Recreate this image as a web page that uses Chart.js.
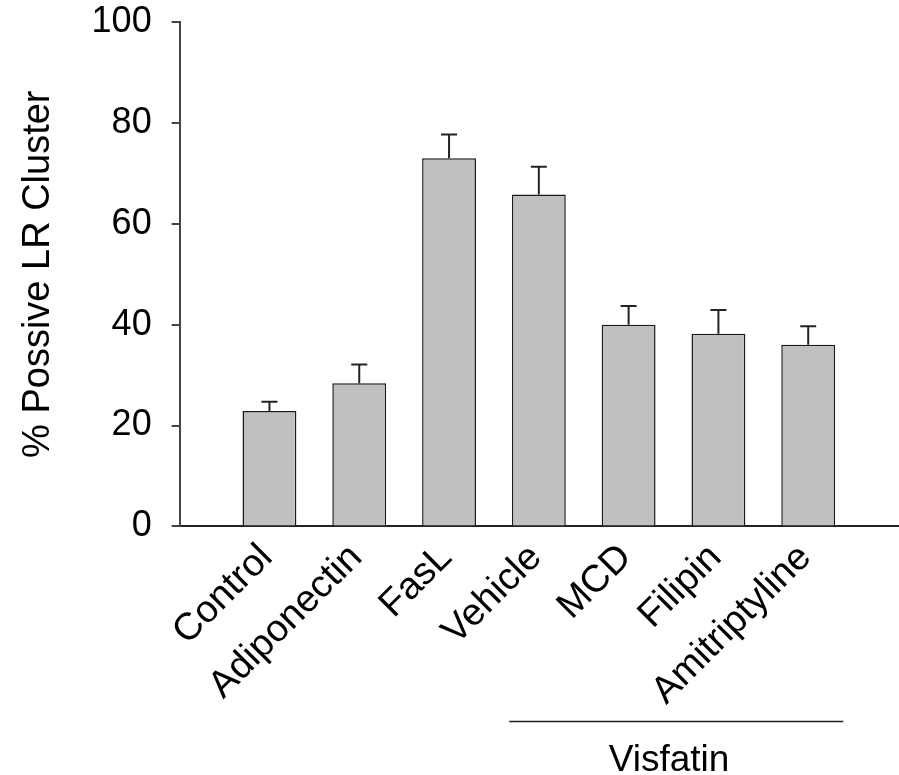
<!DOCTYPE html>
<html>
<head>
<meta charset="utf-8">
<script src="https://cdn.jsdelivr.net/npm/chart.js@4.4.1/dist/chart.umd.min.js"></script>
<style>
  body { margin: 0; background: #fff; }
  #wrap { width: 899px; height: 775px; }
</style>
</head>
<body>
<div id="wrap"><canvas id="myChart"></canvas></div>
<script>
let groups = ['Control', 'Adiponectin', 'FasL', 'Vehicle', 'MCD', 'Filipin', 'Amitriptyline']
let values = [22.9, 28.4, 73.0, 65.8, 40.0, 38.2, 36.0]
let errors = [1.8, 3.7, 4.7, 5.5, 3.7, 4.7, 3.7]
let yTicks = [0, 20, 40, 60, 80, 100]
let yTitle = '% Possive LR Cluster'
let bracketLabel = 'Visfatin'

Chart.defaults.font.family = '"Liberation Sans", Arial, sans-serif'
Chart.defaults.color = '#000'

// upper error bars only, like the original figure
const errorBars = {
  id: 'errorBars',
  afterDatasetsDraw(chart) {
    const ctx = chart.ctx
    const y = chart.scales.y
    const meta = chart.getDatasetMeta(0)
    ctx.save()
    ctx.strokeStyle = '#222'
    ctx.lineWidth = 2
    meta.data.forEach((bar, i) => {
      const top = y.getPixelForValue(values[i] + errors[i])
      ctx.beginPath()
      ctx.moveTo(bar.x, bar.y)
      ctx.lineTo(bar.x, top)
      ctx.moveTo(bar.x - 8, top)
      ctx.lineTo(bar.x + 8, top)
      ctx.stroke()
    })
    ctx.restore()
  }
}

// line under the last four groups with its label
const bracket = {
  id: 'bracket',
  afterDraw(chart) {
    const ctx = chart.ctx
    const x = chart.scales.x
    const x1 = x.getPixelForValue(3.67)
    const x2 = x.getPixelForValue(7.39)
    const ly = chart.chartArea.bottom + 195
    ctx.save()
    ctx.strokeStyle = '#222'
    ctx.lineWidth = 1.5
    ctx.beginPath()
    ctx.moveTo(x1, ly)
    ctx.lineTo(x2, ly)
    ctx.stroke()
    ctx.fillStyle = '#000'
    ctx.font = '37px "Liberation Sans", Arial, sans-serif'
    ctx.textAlign = 'center'
    ctx.textBaseline = 'alphabetic'
    ctx.fillText(bracketLabel, x.getPixelForValue(5.45), chart.chartArea.bottom + 245)
    ctx.restore()
  }
}

const ctx = document.getElementById('myChart')
const chart = new Chart(ctx, {
  type: 'bar',
  data: {
    datasets: [{
      data: values.map((v, i) => ({ x: i + 1, y: v })),
      backgroundColor: '#c0c0c0',
      borderColor: '#1a1a1a',
      borderWidth: 1.5,
      categoryPercentage: 1,
      barPercentage: 0.6
    }]
  },
  options: {
    responsive: true,
    maintainAspectRatio: false,
    animation: false,
    layout: { padding: { left: 0, right: 1, top: 1, bottom: 52 } },
    plugins: { legend: { display: false }, tooltip: { enabled: false } },
    scales: {
      x: {
        type: 'linear',
        min: 0,
        max: 8,
        offset: false,
        grid: { display: false, drawTicks: false },
        border: { display: true, color: '#222', width: 2 },
        afterFit: (scale) => { scale.paddingLeft = 0; scale.paddingRight = 0 },
        ticks: {
          stepSize: 1,
          autoSkip: false,
          minRotation: 45,
          maxRotation: 45,
          padding: 9,
          labelOffset: -3,
          font: { size: 38 },
          callback: (v) => groups[v - 1] || ''
        }
      },
      y: {
        min: 0,
        max: 100,
        afterBuildTicks: (scale) => { scale.ticks = yTicks.map(v => ({ value: v })) },
        afterFit: (scale) => { scale.paddingTop = 22 },
        grid: { drawOnChartArea: false, drawTicks: true, tickLength: 8, color: '#444', lineWidth: 2 },
        border: { display: true, color: '#444', width: 2 },
        ticks: { padding: 20, font: { size: 36 } },
        title: {
          display: true,
          text: yTitle,
          font: { size: 38 },
          padding: { top: 16, bottom: 10 }
        }
      }
    }
  },
  plugins: [errorBars, bracket]
})
</script>
</body>
</html>
